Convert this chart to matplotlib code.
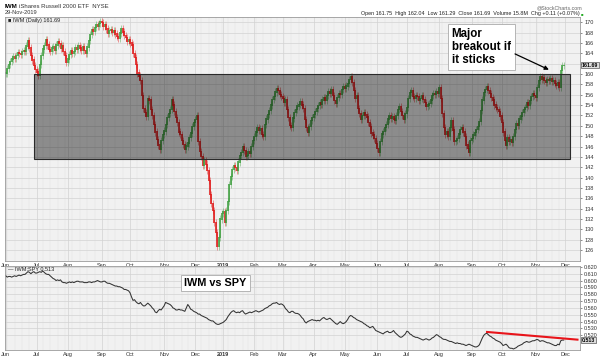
import numpy as np
import pandas as pd
import matplotlib
matplotlib.use("Agg")
import matplotlib.pyplot as plt
from matplotlib.patches import Rectangle

plt.rcParams['font.family'] = ['Liberation Sans', 'DejaVu Sans']

# NYSE trading days 1-Jun-2018 .. 29-Nov-2019
holidays = ['2018-07-04', '2018-09-03', '2018-11-22', '2018-12-05', '2018-12-25',
            '2019-01-01', '2019-01-21', '2019-02-18', '2019-04-19', '2019-05-27',
            '2019-07-04', '2019-09-02', '2019-11-28']
days = pd.bdate_range('2018-06-01', '2019-11-29')
days = days[~days.isin(pd.to_datetime(holidays))]

# IWM daily close (one row per month)
iwm_close = [
    160.2, 161.0, 161.8, 162.4, 162.9, 163.3, 163.0, 163.6, 164.2, 164.0, 163.7, 164.3, 164.6, 164.3, 165.4, 166.4, 165.0, 163.5, 162.7, 161.6, 160.8,
    160.4, 159.8, 161.9, 163.6, 164.8, 165.5, 166.6, 165.6, 164.7, 164.3, 165.0, 165.2, 164.6, 165.6, 166.3, 165.9, 165.0, 165.4, 164.3, 163.5, 162.2,
    162.9, 163.8, 164.5, 164.0, 164.4, 165.1, 164.8, 165.4, 165.0, 164.5, 165.2, 164.6, 164.0, 165.2, 166.4, 167.6, 168.5, 168.2, 169.0, 169.6, 169.2, 169.8, 170.1,
    169.9, 169.2, 169.5, 168.7, 167.9, 168.4, 168.6, 168.0, 168.3, 167.7, 167.2, 166.9, 167.9, 168.8, 168.1, 167.5, 167.0, 166.2, 166.6,
    166.0, 165.6, 164.0, 163.2, 161.8, 160.2, 159.6, 158.7, 155.8, 153.4, 152.6, 151.8, 155.2, 155.0, 153.2, 152.0, 150.3, 148.8, 147.4, 146.3, 145.4, 147.1, 148.3,
    149.0, 150.3, 151.6, 152.4, 153.2, 155.1, 154.0, 152.8, 151.6, 150.6, 148.8, 148.3, 147.2, 146.4, 145.4, 146.1, 146.7, 147.8, 148.6, 149.9, 150.6,
    151.2, 152.0, 147.0, 145.1, 144.0, 142.3, 143.2, 142.6, 141.4, 139.5, 136.8, 135.0, 133.6, 131.4, 129.4, 126.8, 128.4, 132.0, 133.0,
    133.5, 131.4, 133.6, 135.4, 138.6, 140.2, 141.5, 142.3, 141.9, 141.3, 143.0, 144.2, 144.9, 146.0, 145.2, 144.0, 144.3, 145.0, 144.6, 146.0, 147.2,
    148.0, 148.8, 149.6, 149.1, 149.4, 148.3, 148.0, 150.2, 151.3, 152.2, 153.0, 154.0, 155.1, 155.6, 156.5, 157.2, 156.8, 156.1, 155.6,
    155.3, 154.6, 155.0, 153.2, 151.6, 150.0, 149.6, 151.5, 152.6, 153.2, 153.8, 154.1, 154.7, 154.0, 153.4, 151.2, 149.7, 148.7, 149.8, 151.0, 151.6,
    152.2, 152.7, 153.4, 153.9, 154.5, 154.2, 155.0, 155.4, 155.0, 155.8, 156.5, 156.2, 156.9, 155.8, 154.9, 154.4, 155.5, 156.3, 156.0, 157.0, 157.5,
    157.2, 157.7, 158.2, 158.9, 159.5, 158.3, 156.8, 155.3, 155.9, 153.4, 152.4, 151.2, 152.0, 152.6, 152.1, 151.7, 150.6, 149.9, 148.6, 148.2, 147.6, 146.6,
    145.6, 144.8, 147.0, 148.4, 148.9, 149.6, 150.3, 151.3, 151.9, 151.4, 151.8, 151.3, 151.0, 152.0, 153.2, 153.7, 152.8, 152.0, 151.2, 152.3,
    153.6, 155.2, 156.4, 156.8, 155.7, 155.2, 155.9, 155.6, 155.0, 155.3, 155.8, 155.1, 154.5, 153.8, 154.0, 154.3, 155.0, 155.8, 156.3, 156.0, 156.6, 156.2,
    157.3, 155.2, 152.4, 149.6, 148.4, 148.9, 148.0, 149.6, 151.0, 149.2, 146.9, 147.2, 147.6, 148.4, 149.3, 149.7, 148.8, 147.9, 146.3, 145.6, 144.9, 147.1,
    147.6, 148.2, 148.7, 149.3, 149.8, 150.8, 152.9, 155.0, 156.4, 157.0, 157.6, 156.8, 156.2, 155.5, 155.0, 154.0, 153.5, 153.2, 152.8, 151.9,
    150.7, 148.8, 147.2, 146.2, 147.8, 147.0, 147.4, 146.8, 147.9, 149.3, 150.4, 150.1, 151.3, 151.9, 152.5, 153.1, 153.6, 154.4, 154.0, 154.9, 155.6, 156.3, 155.8,
    155.4, 157.4, 158.8, 159.4, 159.0, 159.3, 158.7, 158.4, 158.9, 158.7, 159.1, 158.5, 158.8, 158.2, 157.8, 158.4, 157.5, 160.7, 161.6, 161.69,
]

# IWM:SPY ratio, daily
iwm_spy = [
    0.607, 0.605, 0.606, 0.606, 0.605, 0.606, 0.607, 0.606, 0.607, 0.608, 0.607, 0.608, 0.609, 0.609, 0.611, 0.613, 0.612, 0.610, 0.612, 0.613, 0.611,
    0.611, 0.612, 0.613, 0.612, 0.614, 0.612, 0.610, 0.609, 0.609, 0.607, 0.605, 0.603, 0.602, 0.600, 0.601, 0.600, 0.601, 0.598, 0.597, 0.597, 0.596,
    0.597, 0.598, 0.597, 0.598, 0.597, 0.598, 0.599, 0.599, 0.598, 0.598, 0.598, 0.597, 0.597, 0.597, 0.598, 0.598, 0.597, 0.598, 0.598, 0.599, 0.600, 0.599, 0.598,
    0.598, 0.599, 0.599, 0.597, 0.596, 0.596, 0.595, 0.594, 0.593, 0.592, 0.592, 0.591, 0.591, 0.590, 0.589, 0.587, 0.587, 0.586, 0.585,
    0.582, 0.576, 0.571, 0.572, 0.569, 0.567, 0.566, 0.568, 0.565, 0.563, 0.563, 0.565, 0.567, 0.565, 0.563, 0.560, 0.558, 0.554, 0.553, 0.556, 0.558, 0.557, 0.560,
    0.563, 0.568, 0.567, 0.566, 0.565, 0.563, 0.560, 0.559, 0.557, 0.557, 0.558, 0.557, 0.557, 0.556, 0.555, 0.560, 0.565, 0.562, 0.558, 0.557, 0.555,
    0.554, 0.553, 0.551, 0.551, 0.549, 0.548, 0.547, 0.546, 0.545, 0.543, 0.542, 0.541, 0.541, 0.539, 0.537, 0.536, 0.536, 0.537, 0.538,
    0.539, 0.541, 0.543, 0.547, 0.550, 0.553, 0.555, 0.556, 0.554, 0.553, 0.554, 0.553, 0.555, 0.556, 0.553, 0.551, 0.552, 0.553, 0.554, 0.553, 0.554,
    0.555, 0.556, 0.555, 0.554, 0.555, 0.556, 0.557, 0.559, 0.560, 0.561, 0.563, 0.564, 0.566, 0.567, 0.567, 0.568, 0.566, 0.565, 0.566,
    0.565, 0.563, 0.559, 0.557, 0.554, 0.553, 0.555, 0.555, 0.553, 0.552, 0.552, 0.551, 0.549, 0.546, 0.544, 0.540, 0.538, 0.540, 0.541, 0.542, 0.543,
    0.542, 0.542, 0.541, 0.542, 0.541, 0.543, 0.545, 0.546, 0.544, 0.543, 0.544, 0.545, 0.543, 0.541, 0.539, 0.537, 0.536, 0.538, 0.540, 0.538, 0.537,
    0.538, 0.540, 0.543, 0.547, 0.549, 0.548, 0.546, 0.545, 0.543, 0.542, 0.541, 0.540, 0.539, 0.537, 0.536, 0.534, 0.533, 0.531, 0.532, 0.533, 0.530, 0.527,
    0.526, 0.525, 0.524, 0.523, 0.522, 0.524, 0.525, 0.526, 0.524, 0.524, 0.525, 0.527, 0.524, 0.522, 0.520, 0.518, 0.517, 0.518, 0.520, 0.522,
    0.526, 0.525, 0.522, 0.521, 0.519, 0.518, 0.517, 0.517, 0.516, 0.515, 0.514, 0.513, 0.514, 0.515, 0.514, 0.513, 0.514, 0.516, 0.517, 0.519, 0.521, 0.520,
    0.518, 0.517, 0.515, 0.514, 0.514, 0.513, 0.512, 0.511, 0.511, 0.510, 0.509, 0.508, 0.509, 0.508, 0.508, 0.507, 0.507, 0.506, 0.505, 0.506, 0.507, 0.506,
    0.505, 0.504, 0.503, 0.503, 0.504, 0.506, 0.511, 0.516, 0.520, 0.522, 0.523, 0.521, 0.519, 0.518, 0.516, 0.515, 0.513, 0.512, 0.511, 0.510,
    0.508, 0.505, 0.506, 0.507, 0.505, 0.502, 0.501, 0.501, 0.500, 0.501, 0.502, 0.504, 0.505, 0.506, 0.507, 0.509, 0.510, 0.511, 0.510, 0.510, 0.511, 0.512, 0.512,
    0.513, 0.514, 0.513, 0.511, 0.512, 0.512, 0.511, 0.510, 0.509, 0.509, 0.508, 0.507, 0.506, 0.505, 0.505, 0.507, 0.506, 0.512, 0.513, 0.513,
]

month_labels = ['Jun', 'Jul', 'Aug', 'Sep', 'Oct', 'Nov', 'Dec', '2019', 'Feb', 'Mar', 'Apr',
                'May', 'Jun', 'Jul', 'Aug', 'Sep', 'Oct', 'Nov', 'Dec']

# hand drawn marks (trading-day index, value)
box_days = [19.2, 381.5]
box_prices = [143.55, 160.0]
trend_days = [324.5, 387.0]
trend_ratio = [0.5250, 0.5135]

n = len(days)
x = np.arange(n)
month_pos = [0] + [k for k in range(1, n) if days[k].month != days[k - 1].month] + [n]
week_pos = [k for k in range(1, n) if days[k].weekday() < days[k - 1].weekday()]

W, H = 600, 361
fig = plt.figure(figsize=(6, 3.61), dpi=100)
ax1 = fig.add_axes([5 / W, 1 - 261 / H, 575 / W, 244 / H])
ax2 = fig.add_axes([5 / W, 1 - 350 / H, 575 / W, 84.5 / H])

for ax in (ax1, ax2):
    ax.set_facecolor('#f1f1f1')
    ax.set_xlim(-0.5, 388)
    ax.set_xticks(month_pos)
    ax.set_xticklabels(month_labels)
    ax.set_xticks(week_pos, minor=True)
    ax.yaxis.tick_right()
    ax.tick_params(axis='x', which='both', length=0, labelsize=4, pad=1.2, colors='#333333')
    ax.tick_params(axis='y', length=1.5, width=0.4, labelsize=4, pad=1.5, colors='#333333')
    ax.grid(which='major', color='#d2d2d2', lw=0.5)
    ax.grid(which='minor', axis='x', color='#e2e2e2', lw=0.35)
    ax.set_axisbelow(True)
    for s in ax.spines.values():
        s.set_color('#9a9a9a')
        s.set_linewidth(0.6)
    for t in ax.get_xticklabels():
        if t.get_text() == '2019':
            t.set_fontweight('bold')

# candles: open taken as the prior close
close = np.array(iwm_close)
open_ = np.r_[close[0], close[:-1]]
up = close >= open_
col = np.where(up, '#3f9f3f', '#e01818')
wick = 0.7
ax1.vlines(x, np.minimum(open_, close) - wick, np.maximum(open_, close) + wick,
           colors=col, lw=0.5, alpha=0.6)
ax1.vlines(x, np.minimum(open_, close) - 0.12, np.maximum(open_, close) + 0.12,
           colors=col, lw=1.15)

ax1.add_patch(Rectangle((box_days[0], box_prices[0]), box_days[1] - box_days[0],
                        box_prices[1] - box_prices[0], fc='black', alpha=0.42,
                        ec='none', zorder=3))
ax1.add_patch(Rectangle((box_days[0], box_prices[0]), box_days[1] - box_days[0],
                        box_prices[1] - box_prices[0], fc='none', ec='#2a2a2a',
                        lw=0.8, zorder=3))

ax1.set_ylim(123.9, 171.0)
ax1.set_yticks(np.arange(126, 171, 2))
ax1.set_yticklabels(['' if v == 162 else f'{v:d}' for v in range(126, 171, 2)])

ax1.text(0.005, 0.995, '\u25a0 IWM (Daily) 161.69', transform=ax1.transAxes,
         fontsize=4, va='top', ha='left', color='#222222')
ax1.annotate('161.69', xy=(1, iwm_close[-1]), xycoords=('axes fraction', 'data'),
             xytext=(1.5, 0), textcoords='offset points', va='center', ha='left',
             fontsize=3.8, fontweight='bold', annotation_clip=False, zorder=10,
             bbox=dict(boxstyle='square,pad=0.12', fc='#dddddd', ec='#333333', lw=0.4))

ax1.text(301.3, 168.9, 'Major\nbreakout if\nit sticks', fontsize=8.3, fontweight='bold',
         va='top', ha='left', linespacing=1.1, zorder=6,
         bbox=dict(boxstyle='square,pad=0.35', fc='white', ec='#aaaaaa', lw=0.6))
ax1.annotate('', xy=(368.7, 160.6), xytext=(342.4, 164.1),
             arrowprops=dict(arrowstyle='-|>', color='black', lw=0.9,
                             mutation_scale=6), zorder=6)

# ratio panel
ax2.plot(x, iwm_spy, color='#333333', lw=0.75)
ax2.plot(trend_days, trend_ratio, color='#e8141a', lw=1.5, solid_capstyle='butt')
ax2.set_ylim(0.4985, 0.622)
ticks = np.round(np.arange(0.52, 0.6201, 0.01), 3)
ax2.set_yticks(ticks)
ax2.set_yticklabels([f'{v:.3f}' for v in ticks])
ax2.text(0.005, 0.985, '\u2014 IWM:SPY 0.513', transform=ax2.transAxes,
         fontsize=4, va='top', ha='left', color='#222222')
ax2.annotate('0.513', xy=(1, iwm_spy[-1]), xycoords=('axes fraction', 'data'),
             xytext=(1.5, 0), textcoords='offset points', va='center', ha='left',
             fontsize=3.8, fontweight='bold', annotation_clip=False, zorder=10,
             bbox=dict(boxstyle='square,pad=0.12', fc='#dddddd', ec='#333333', lw=0.4))
ax2.text(120.5, 0.6035, 'IWM vs SPY', fontsize=7.8, fontweight='bold', va='top',
         ha='left', zorder=6,
         bbox=dict(boxstyle='square,pad=0.3', fc='white', ec='#aaaaaa', lw=0.6))

# header
fig.text(5 / W, 1 - 7 / H, 'IWM', fontsize=4.5, fontweight='bold', va='center')
fig.text(19 / W, 1 - 7 / H, 'iShares Russell 2000 ETF  NYSE', fontsize=4.3, va='center',
         color='#333333')
fig.text(5 / W, 1 - 13 / H, '29-Nov-2019', fontsize=4.1, va='center', color='#333333')
fig.text(582 / W, 1 - 8 / H, '@StockCharts.com', fontsize=3.8, va='center', ha='right',
         color='#666666')
fig.text(580 / W, 1 - 14 / H,
         'Open 161.75  High 162.04  Low 161.29  Close 161.69  Volume 15.8M  Chg +0.11 (+0.07%)',
         fontsize=3.9, va='center', ha='right', color='#222222')
fig.text(581 / W, 1 - 14 / H, '\u25a0', fontsize=3, va='center', ha='left', color='#22aa22')

fig.savefig('out.png', dpi=100)
